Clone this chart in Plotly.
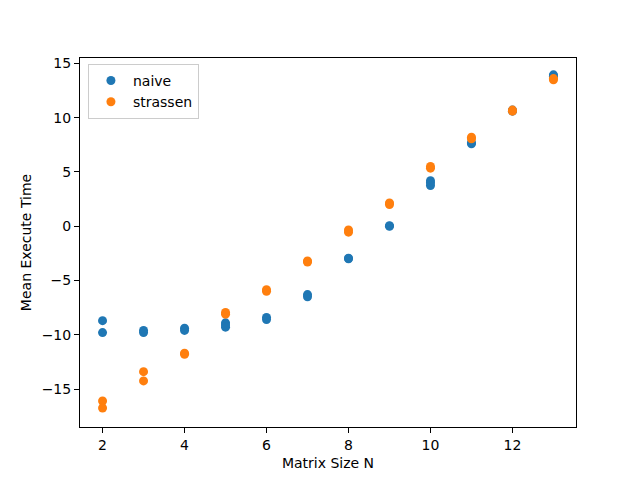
import plotly.graph_objects as go

naive_n = [2, 2, 3, 3, 4, 4, 5, 5, 5, 6, 6, 7, 7, 8, 8, 9, 9, 10, 10, 10, 11, 11, 12, 12, 13, 13]
naive_t = [-8.7, -9.8, -9.6, -9.8, -9.4, -9.6, -8.9, -9.1, -9.3, -8.4, -8.6, -6.3, -6.5, -2.95, -3.0,
           0.0, 0.05, 4.2, 4.0, 3.75, 7.6, 7.7, 10.6, 10.7, 13.95, 13.8]
strassen_n = [2, 2, 3, 3, 4, 4, 5, 5, 6, 6, 7, 7, 8, 8, 9, 9, 10, 10, 11, 11, 12, 12, 13, 13]
strassen_t = [-16.1, -16.75, -13.4, -14.25, -11.7, -11.8, -7.95, -8.1, -5.85, -6.0, -3.2, -3.3,
              -0.35, -0.55, 2.0, 2.15, 5.35, 5.5, 8.05, 8.2, 10.6, 10.7, 13.5, 13.6]

fig = go.Figure()
fig.add_trace(go.Scatter(x=naive_n, y=naive_t, mode="markers", name="naive",
                         marker=dict(color="#1f77b4", size=9, line=dict(width=0))))
fig.add_trace(go.Scatter(x=strassen_n, y=strassen_t, mode="markers", name="strassen",
                         marker=dict(color="#ff7f0e", size=9, line=dict(width=0))))

axis_common = dict(showline=True, mirror=True, linecolor="black", linewidth=1,
                   ticks="outside", ticklen=5, tickcolor="black", tickwidth=1,
                   showgrid=False, zeroline=False,
                   tickfont=dict(family="DejaVu Sans", size=14, color="black"))

fig.update_layout(
    width=640, height=480,
    margin=dict(l=80, r=64, t=58, b=53),
    plot_bgcolor="white", paper_bgcolor="white",
    font=dict(family="DejaVu Sans", size=14, color="black"),
    xaxis=dict(range=[1.45, 13.55], tickvals=[2, 4, 6, 8, 10, 12],
               title=dict(text="Matrix Size N", standoff=6, font=dict(size=14)), **axis_common),
    yaxis=dict(range=[-18.5, 15.5], tickvals=[-15, -10, -5, 0, 5, 10, 15],
               title=dict(text="Mean Execute Time", standoff=6, font=dict(size=14)), **axis_common),
    legend=dict(x=0.016, y=0.984, xanchor="left", yanchor="top",
                bgcolor="white", bordercolor="#cccccc", borderwidth=1,
                font=dict(size=14), itemwidth=34, tracegroupgap=0),
    showlegend=True,
)

fig.write_html("out.html")
